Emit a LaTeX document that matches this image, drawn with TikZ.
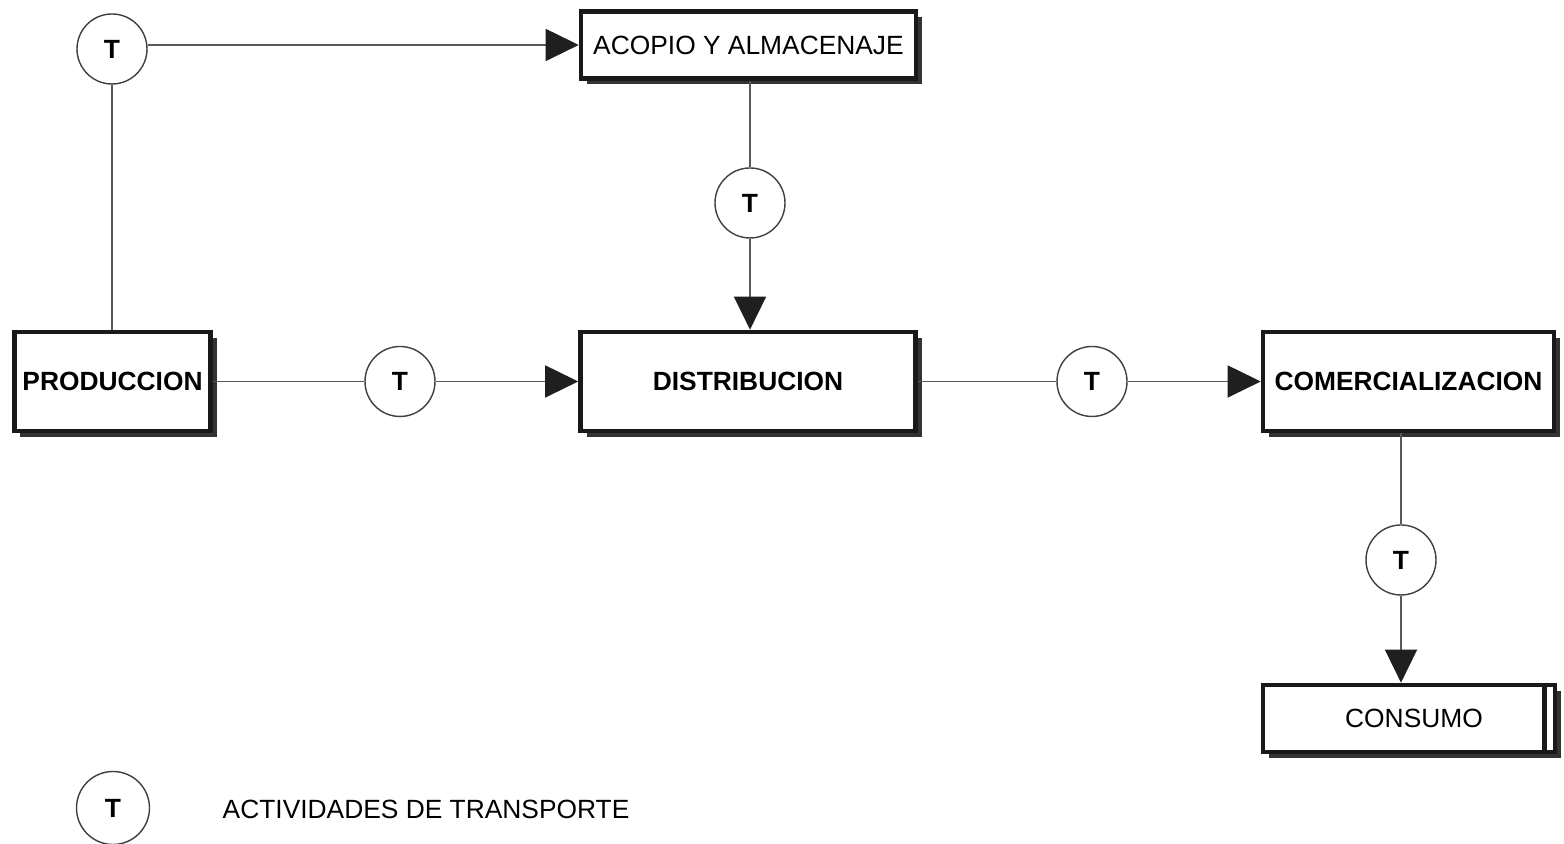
\documentclass[tikz,border=0pt]{standalone}
\usepackage{fontspec}
\setmainfont{Liberation Sans}
\usetikzlibrary{arrows.meta,shadows}

\begin{document}
\begin{tikzpicture}[line width=0.4pt,>={Triangle[length=0.33cm,width=0.32cm,color=black!88]},
  font=\fontsize{7.5}{9}\selectfont,
  etapa/.style={draw=black!90,line width=1.3pt,fill=white,inner sep=0pt,
    drop shadow={shadow xshift=0.6mm,shadow yshift=-0.6mm,fill=black!80,opacity=1}},
  trans/.style={draw=black!75,circle,minimum size=0.70cm,inner sep=0pt,font=\fontsize{7.5}{9}\selectfont\bfseries},
  flujo/.style={black!65}]
  \useasboundingbox[fill=white] (0,0) rectangle (15.64,8.44);
  % etapas
  \node[etapa,minimum width=3.35cm,minimum height=0.67cm] (acopio) at (7.485,7.99) {ACOPIO Y ALMACENAJE};
  \node[etapa,minimum width=1.96cm,minimum height=0.99cm,font=\fontsize{7.5}{9}\selectfont\bfseries] (produccion) at (1.125,4.625) {PRODUCCION};
  \node[etapa,minimum width=3.35cm,minimum height=0.99cm,font=\fontsize{7.5}{9}\selectfont\bfseries] (distribucion) at (7.48,4.625) {DISTRIBUCION};
  \node[etapa,minimum width=2.91cm,minimum height=0.99cm,font=\fontsize{7.5}{9}\selectfont\bfseries] (comer) at (14.085,4.625) {COMERCIALIZACION};
  \node[etapa,minimum width=2.92cm,minimum height=0.67cm] (consumo) at (14.09,1.255) {\hspace*{0.1cm}CONSUMO};
  \draw[line width=1.3pt,black!90] ([xshift=-0.13cm]consumo.north east) -- ([xshift=-0.13cm]consumo.south east);
  % transporte
  \node[trans] (t1) at (1.12,7.95) {T};
  \node[trans] (t2) at (7.50,6.41) {T};
  \node[trans] (t3) at (4.00,4.625) {T};
  \node[trans] (t4) at (10.92,4.625) {T};
  \node[trans] (t5) at (14.01,2.84) {T};
  \draw[flujo] (produccion.north -| t1) -- (t1);
  \draw[flujo,->] (t1.east |- acopio.west) -- (acopio.west);
  \draw[flujo] (acopio.south -| t2) -- (t2);
  \draw[flujo,->] (t2) -- (distribucion.north -| t2);
  \draw[flujo] (produccion) -- (t3);
  \draw[flujo,->] (t3) -- (distribucion);
  \draw[flujo] (distribucion) -- (t4);
  \draw[flujo,->] (t4) -- (comer);
  \draw[flujo] (comer.south -| t5) -- (t5);
  \draw[flujo,->] (t5) -- (consumo.north -| t5);
  % leyenda
  \node[trans,minimum size=0.73cm] (tl) at (1.13,0.36) {T};
  \node[anchor=west,inner sep=0pt] (leyenda) at (2.22,0.35) {ACTIVIDADES DE TRANSPORTE};
\end{tikzpicture}
\end{document}
